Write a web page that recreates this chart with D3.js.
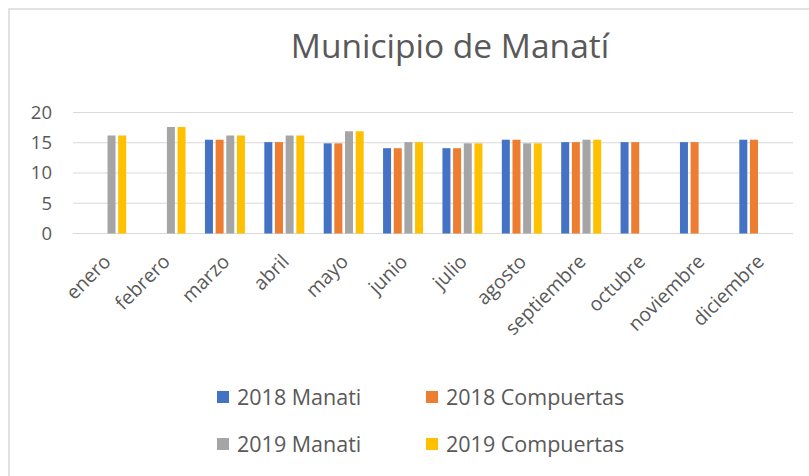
<!DOCTYPE html>
<html>
<head>
<meta charset="utf-8">
<script src="https://cdn.jsdelivr.net/npm/d3@7"></script>
<style>
  body { margin: 0; background: #fff; }
  text { font-family: "Open Sans", Lato, sans-serif; fill: #595959; }
</style>
</head>
<body>
<script>
var months = ["enero","febrero","marzo","abril","mayo","junio","julio","agosto","septiembre","octubre","noviembre","diciembre"];
var seriesNames = ["2018 Manati","2018 Compuertas","2019 Manati","2019 Compuertas"];
var manati2018     = [null, null, 15.5, 15.1, 14.9, 14.1, 14.1, 15.5, 15.1, 15.1, 15.1, 15.5];
var compuertas2018 = [null, null, 15.5, 15.1, 14.9, 14.1, 14.1, 15.5, 15.1, 15.1, 15.1, 15.5];
var manati2019     = [16.2, 17.6, 16.2, 16.2, 16.9, 15.1, 14.9, 14.9, 15.5, null, null, null];
var compuertas2019 = [16.2, 17.6, 16.2, 16.2, 16.9, 15.1, 14.9, 14.9, 15.5, null, null, null];
var yTicks = [0, 5, 10, 15, 20];
var colors = ["#4472C4", "#ED7D31", "#A5A5A5", "#FFC000"];

var allSeries = [manati2018, compuertas2018, manati2019, compuertas2019];

var W = 809, H = 476;
var svg = d3.select("body").append("svg").attr("width", W).attr("height", H);

// chart frame (runs past the right and bottom edges)
svg.append("rect").attr("x", 9).attr("y", 9).attr("width", W + 20).attr("height", H + 20)
  .attr("fill", "#fff").attr("stroke", "#d9d9d9").attr("stroke-width", 1.5);

svg.append("text").attr("x", 450).attr("y", 58).attr("text-anchor", "middle")
  .style("font-size", "33.5px").text("Municipio de Manatí");

var y = d3.scaleLinear().domain([0, 20]).range([233.5, 112.5]);
var x0 = d3.scaleBand().domain(months).range([76.5, 789]);
var x1 = d3.scaleBand().domain(seriesNames).range([0, x0.bandwidth()])
  .paddingInner(0.25).paddingOuter(0.91);

// gridlines
svg.append("g").selectAll("line").data(yTicks).enter().append("line")
  .attr("x1", 73).attr("x2", 793)
  .attr("y1", function(d){ return y(d); }).attr("y2", function(d){ return y(d); })
  .attr("stroke", "#d9d9d9").attr("stroke-width", 1.2);

svg.append("g").selectAll("text").data(yTicks).enter().append("text")
  .attr("x", 52).attr("y", function(d){ return y(d); }).attr("dy", "0.35em")
  .attr("text-anchor", "end").style("font-size", "18.5px")
  .text(function(d){ return d; });

// bars
var bars = [];
allSeries.forEach(function(s, si){
  s.forEach(function(v, mi){
    if (v != null) bars.push({m: months[mi], s: seriesNames[si], v: v, c: colors[si]});
  });
});
svg.append("g").selectAll("rect").data(bars).enter().append("rect")
  .attr("x", function(d){ return x0(d.m) + x1(d.s); })
  .attr("width", x1.bandwidth())
  .attr("y", function(d){ return y(d.v); })
  .attr("height", function(d){ return y(0) - y(d.v); })
  .attr("fill", function(d){ return d.c; });

// month labels, rotated
svg.append("g").selectAll("text").data(months).enter().append("text")
  .attr("transform", function(d){ return "translate(" + (x0(d) + x0.bandwidth()/2 + 1) + ",258) rotate(-45)"; })
  .attr("text-anchor", "end").attr("dy", "0.35em").style("font-size", "19.5px")
  .text(function(d){ return d; });

// legend
var legend = svg.append("g").selectAll("g").data(seriesNames).enter().append("g")
  .attr("transform", function(d, i){ return "translate(" + (217 + (i % 2) * 209) + "," + (397 + Math.floor(i / 2) * 47) + ")"; });
legend.append("rect").attr("x", 0).attr("y", -6).attr("width", 12).attr("height", 12)
  .attr("fill", function(d, i){ return colors[i]; });
legend.append("text").attr("x", 20).attr("dy", "0.35em").style("font-size", "21.5px")
  .text(function(d){ return d; });
</script>
</body>
</html>
